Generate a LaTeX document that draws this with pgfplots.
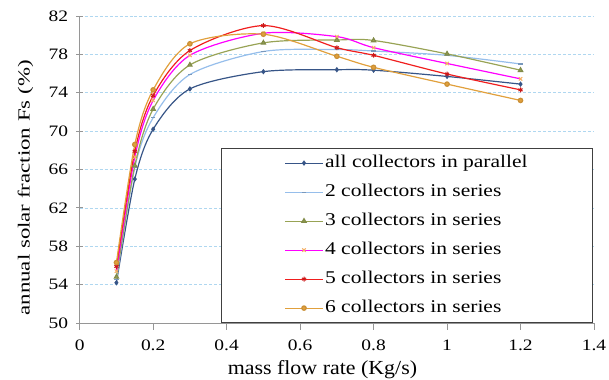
\documentclass[border=0pt]{standalone}
\usepackage{fontspec}
\setmainfont{Liberation Serif}
\newfontfamily\tickfont[FakeStretch=1.22]{Liberation Serif}
\newfontfamily\legfont[FakeStretch=1.2]{Liberation Serif}
\newfontfamily\xlabfont[FakeStretch=1.1]{Liberation Serif}
\newfontfamily\ylabfont[FakeStretch=1.35]{Liberation Serif}
\usepackage{pgfplots}
\pgfplotsset{compat=1.18}
\definecolor{cA}{RGB}{55,85,135}
\definecolor{cB}{RGB}{150,190,235}
\definecolor{cC}{RGB}{152,163,85}
\definecolor{cD}{RGB}{255,0,255}
\definecolor{cDm}{RGB}{245,175,100}
\definecolor{cE}{RGB}{240,30,30}
\definecolor{cF}{RGB}{225,160,60}
\definecolor{gridc}{RGB}{175,215,240}
\definecolor{axc}{RGB}{150,150,150}
\pgfplotstableread{
x    s1     s2     s3     s4     s5     s6
0.1  54.2   54.5   54.8   55.4   55.9   56.3
0.15 65.0   66.2   66.4   67.3   67.9   68.6
0.2  70.2   71.4   72.3   73.2   73.7   74.3
0.3  74.4   75.9   76.9   77.9   78.4   79.1
0.5  76.2   78.3   79.2   80.2   81.0   80.1
0.7  76.4   78.5   79.5   79.85  78.7   77.8
0.8  76.35  78.35  79.45  78.7   77.9   76.65
1.0  75.7   77.9   78.05  77.05  75.95  74.9
1.2  74.9   77.0   76.35  75.45  74.3   73.2
}\datatable
\begin{document}
\begin{tikzpicture}
\begin{axis}[
  scale only axis, width=514.3bp, height=307bp,
  xmin=0, xmax=1.4, ymin=50, ymax=82,
  xtick={0,0.2,0.4,0.6,0.8,1,1.2,1.4},
  ytick={50,54,58,62,66,70,74,78,82},
  axis x line=bottom, axis y line=left,
  axis line style={-, draw=axc, line width=1pt},
  tick style={draw=axc, line width=0.8pt},
  major tick length=7bp,
  xtick align=outside, ytick align=center,
  /pgf/number format/assume math mode=true,
  /pgf/number format/fixed,
  xticklabel style={font=\fontsize{16}{19}\tickfont, anchor=base, inner sep=0pt, yshift=-20bp},
  yticklabel style={font=\fontsize{16}{19}\tickfont, anchor=east, inner sep=0pt, xshift=-8bp},
  xlabel={mass flow rate (Kg/s)},
  ylabel={annual solar fraction Fs (\%)},
  xlabel style={font=\fontsize{20}{24}\xlabfont, at={(axis description cs:0.472,0)}, anchor=base, yshift=-51bp},
  ylabel style={font=\fontsize{17}{20}\ylabfont, at={(axis description cs:-0.1054,0.44)}, anchor=center},
  ymajorgrids,
  major grid style={densely dashed, draw=gridc, line width=0.6pt},
  legend cell align=left,
  legend image code/.code={\draw[mark repeat=2,mark phase=2] plot coordinates {(0bp,0bp)(19bp,0bp)(38bp,0bp)};},
  legend style={at={(axis cs:0.384,50)}, anchor=south west, draw=black!75, line width=1.3pt, fill=white,
    inner xsep=63bp, inner ysep=4.5bp, row sep=9.5bp,
    nodes={inner sep=1.5bp, text height=13bp, text depth=3.5bp},
    font=\fontsize{18}{21}\legfont},
]
\addplot[smooth, cA, line width=1.2pt, mark=diamond*, mark size=1.8bp, mark options={solid, fill=cA}] table[x=x,y=s1]{\datatable};
\addlegendentry{all collectors in parallel}
\addplot[smooth, cB, line width=1.2pt, mark=-, mark size=2.2bp, mark options={solid, draw=cB!80!black}] table[x=x,y=s2]{\datatable};
\addlegendentry{2 collectors in series}
\addplot[smooth, cC, line width=1.2pt, mark=triangle*, mark size=2.4bp, mark options={solid, fill=cC, draw=cC!85!black}] table[x=x,y=s3]{\datatable};
\addlegendentry{3 collectors in series}
\addplot[smooth, cD, line width=1.2pt, mark=x, mark size=2.4bp, mark options={solid, draw=cDm, line width=1pt}] table[x=x,y=s4]{\datatable};
\addlegendentry{4 collectors in series}
\addplot[smooth, cE, line width=1.2pt, mark=asterisk, mark size=2.4bp, mark options={solid, draw=cE!85!black, line width=1pt}] table[x=x,y=s5]{\datatable};
\addlegendentry{5 collectors in series}
\addplot[smooth, cF, line width=1.2pt, mark=*, mark size=2.2bp, mark options={solid, fill=cF, draw=cF!90!black}] table[x=x,y=s6]{\datatable};
\addlegendentry{6 collectors in series}
\end{axis}
\pgfresetboundingbox
\path (current axis.south west) ++(-79.7bp,-57bp) coordinate (bbA);
\path (current axis.north east) ++(15bp,16bp) coordinate (bbB);
\useasboundingbox (bbA) rectangle (bbB);
\end{tikzpicture}
\end{document}
